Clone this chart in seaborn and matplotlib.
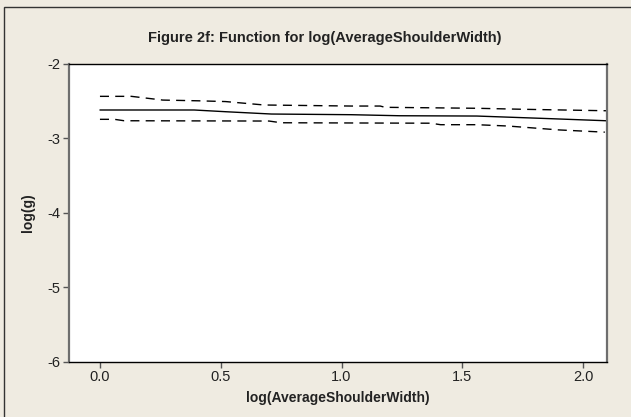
import numpy as np
import pandas as pd
import matplotlib
matplotlib.use("Agg")
import matplotlib.pyplot as plt
import seaborn as sns
from matplotlib.patches import Rectangle

# values
x_fit = [0.0, 0.39, 0.52, 0.71, 1.04, 1.24, 1.56, 1.83, 2.095]
y_fit = [-2.623, -2.623, -2.646, -2.677, -2.686, -2.700, -2.704, -2.735, -2.767]

x_upper = [0.0, 0.13, 0.26, 0.41, 0.52, 0.68, 1.04, 1.16, 1.18, 1.56, 1.76, 2.095]
y_upper = [-2.44, -2.44, -2.49, -2.50, -2.51, -2.556, -2.57, -2.57, -2.587, -2.60, -2.614, -2.633]

x_lower = [0.0, 0.06, 0.10, 0.70, 0.75, 1.37, 1.41, 1.56, 1.69, 1.90, 2.09]
y_lower = [-2.748, -2.748, -2.767, -2.771, -2.794, -2.80, -2.82, -2.82, -2.838, -2.89, -2.92]

xticks = [0.0, 0.5, 1.0, 1.5, 2.0]
xtick_labels = ["0.0", "0.5", "1.0", "1.5", "2.0"]
yticks = [-6, -5, -4, -3, -2]

sns.set_style("ticks")
plt.rcParams["font.family"] = ["Liberation Sans", "DejaVu Sans"]
plt.rcParams["axes.unicode_minus"] = False

bg = "#EFEBE1"
fig = plt.figure(figsize=(6.31, 4.17), dpi=100, facecolor=bg)
ax = fig.add_axes([0.1094, 0.1319, 0.8526, 0.7158])
ax.set_facecolor("white")

sns.lineplot(x=x_fit, y=y_fit, ax=ax, color="black", linewidth=1.0, sort=True)
sns.lineplot(x=x_upper, y=y_upper, ax=ax, color="black", linewidth=1.0,
             linestyle=(0, (6.5, 4.5)), sort=True)
sns.lineplot(x=x_lower, y=y_lower, ax=ax, color="black", linewidth=1.0,
             linestyle=(0, (6.5, 4.5)), sort=True)

ax.set_xlim(-0.128, 2.099)
ax.set_ylim(-6, -2)
ax.set_xticks(xticks)
ax.set_xticklabels(xtick_labels)
ax.set_yticks(yticks)
ax.tick_params(direction="out", length=4, width=1, color="#555555",
               labelsize=10.5, labelcolor="#222222", pad=2)

for side in ["left", "right"]:
    ax.spines[side].set_visible(True)
    ax.spines[side].set_color("#6E6E6E")
    ax.spines[side].set_linewidth(1.6)
for side in ["top", "bottom"]:
    ax.spines[side].set_visible(True)
    ax.spines[side].set_color("black")
    ax.spines[side].set_linewidth(1.0)

ax.set_xlabel("log(AverageShoulderWidth)", fontsize=10, fontweight="bold",
              color="#222222", labelpad=5)
ax.set_ylabel("log(g)", fontsize=10, fontweight="bold", color="#222222",
              labelpad=9)

fig.text(0.515, 0.908, "Figure 2f: Function for log(AverageShoulderWidth)",
         ha="center", va="center", fontsize=10.5, fontweight="bold",
         color="#222222")

# outer frame
fig.patches.append(Rectangle((4 / 631, -0.01), 1.0, 1 - 7 / 417 + 0.01,
                             transform=fig.transFigure, fill=False,
                             edgecolor="#333333", linewidth=1.0))

fig.savefig("out.png", dpi=100, facecolor=bg)
